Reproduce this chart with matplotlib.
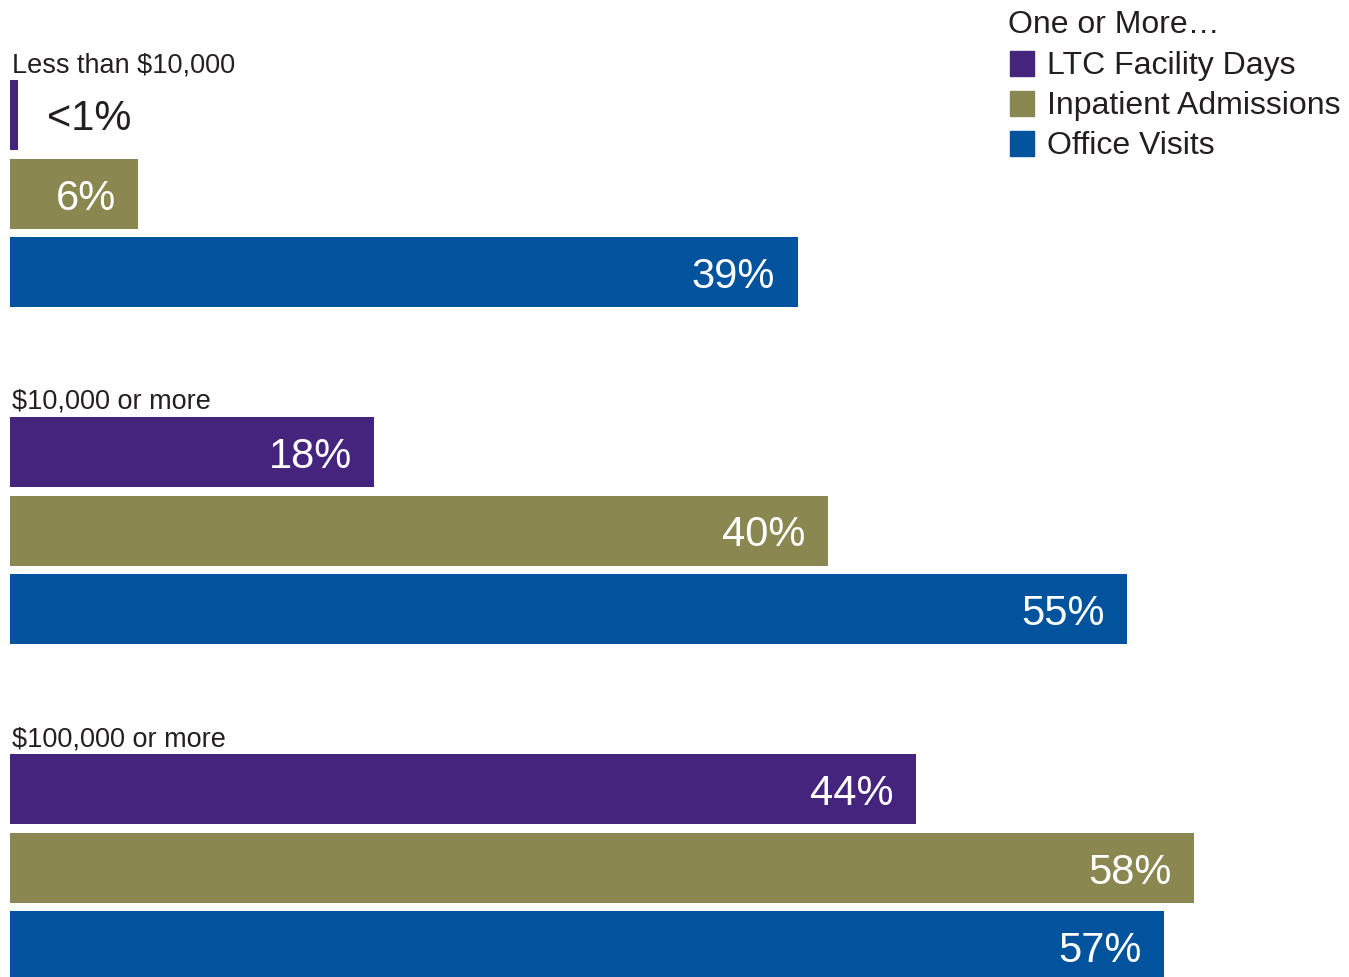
import matplotlib
matplotlib.use("Agg")
import matplotlib.pyplot as plt
from matplotlib.patches import Rectangle

# data
groups = ["Less than $10,000", "$10,000 or more", "$100,000 or more"]
series = ["LTC Facility Days", "Inpatient Admissions", "Office Visits"]
colors = ["#45247e", "#8a8750", "#00539c"]
values = [
    [0.4, 6.3, 38.7],
    [17.9, 40.2, 54.9],
    [44.5, 58.2, 56.7],
]
labels = [
    ["<1%", "6%", "39%"],
    ["18%", "40%", "55%"],
    ["44%", "58%", "57%"],
]
legend_title = "One or More\u2026"

W, H = 1349, 977
fig = plt.figure(figsize=(W / 100, H / 100), dpi=100)
ax = fig.add_axes([0, 0, 1, 1])
ax.set_xlim(-10 / 20.35, (W - 10) / 20.35)
ax.set_ylim(H, 0)
ax.axis("off")

num_font = ["Liberation Sans", "DejaVu Sans"]
cat_font = ["Liberation Sans", "DejaVu Sans"]

bar_h = 70
for g, grp in enumerate(groups):
    top = 115 + g * 337
    ax.text(0.1, top - bar_h / 2 - 8, grp, fontsize=19.5, family=cat_font,
            ha="left", va="baseline", color="#231f20")
    for s in range(len(series)):
        yc = top + s * 78.5
        v = values[g][s]
        ax.barh(yc, v, height=bar_h, color=colors[s], left=0)
        if v < 3:
            ax.text(v + 1.4, yc + 4, labels[g][s], fontsize=30, family=num_font,
                    ha="left", va="center", color="#231f20")
        else:
            ax.text(v - 1.1, yc + 5, labels[g][s], fontsize=30, family=num_font,
                    ha="right", va="center", color="white")

# legend drawn by hand
def fx(px):
    return px / W

def fy(px):
    return 1 - px / H

fig.text(fx(1008), fy(33), legend_title, fontsize=23, family=num_font,
         ha="left", va="baseline", color="#231f20")
for i, name in enumerate(series):
    y0 = 51 + i * 40
    fig.add_artist(Rectangle((fx(1010), fy(y0 + 25)), fx(24), 25 / H,
                             transform=fig.transFigure, color=colors[i]))
    fig.text(fx(1047), fy(y0 + 23), name, fontsize=23, family=num_font,
             ha="left", va="baseline", color="#231f20")

fig.savefig("out.png", dpi=100)
